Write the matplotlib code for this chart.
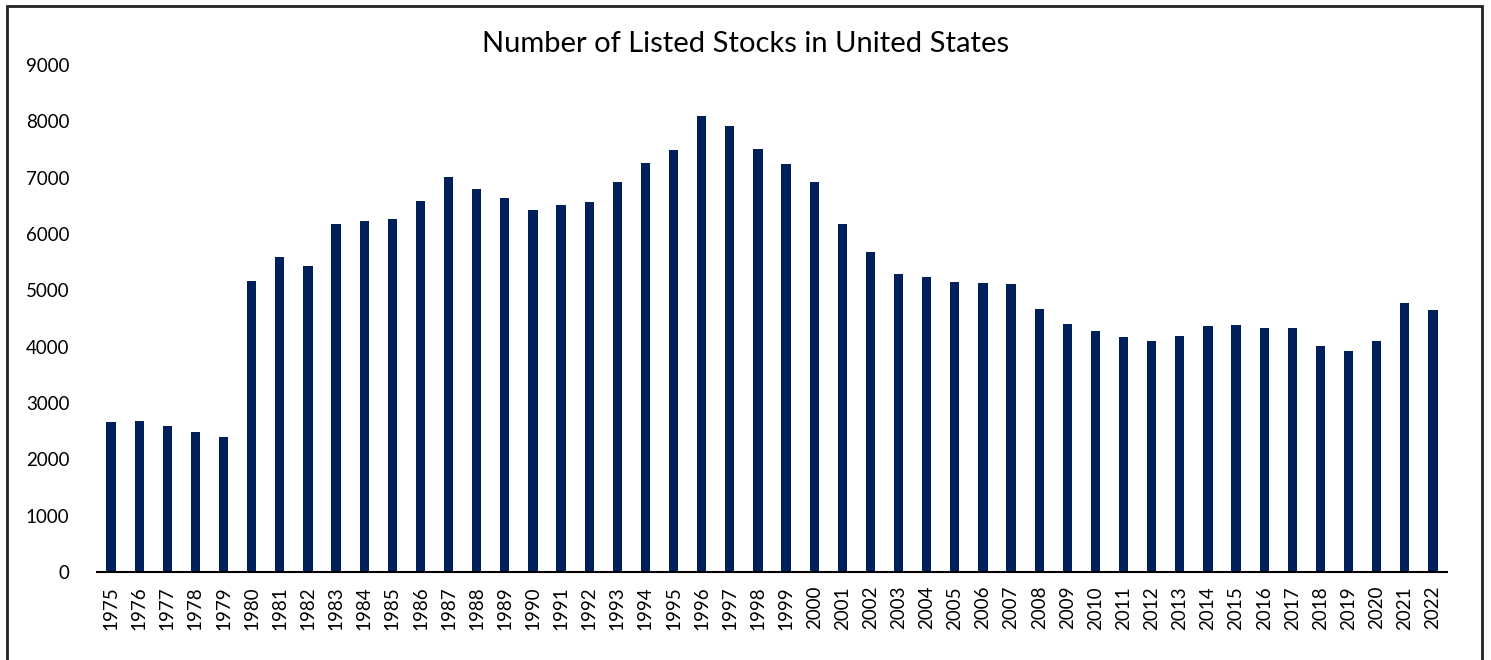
import matplotlib
matplotlib.use("Agg")
import matplotlib.pyplot as plt
from matplotlib.patches import Rectangle

YEARS = list(range(1975, 2023))
LISTED = [
    2664, 2677, 2583, 2487, 2393, 5158, 5584, 5430, 6176, 6234,
    6259, 6584, 7005, 6797, 6632, 6430, 6513, 6561, 6917, 7259,
    7490, 8099, 7911, 7503, 7236, 6917, 6176, 5684, 5293, 5229,
    5146, 5133, 5110, 4666, 4400, 4281, 4169, 4103, 4181, 4369,
    4382, 4329, 4334, 4009, 3915, 4103, 4773, 4643,
]
Y_TICKS = list(range(0, 9001, 1000))
TITLE = "Number of Listed Stocks in United States"
BAR_COLOR = "#00205B"

plt.rcParams["font.family"] = ["Lato", "DejaVu Sans"]

W, H = 1491, 660
fig = plt.figure(figsize=(W / 100, H / 100), dpi=100)
ax = fig.add_axes([97 / W, 1 - 572 / H, (1447 - 97) / W, (572 - 65) / H])

x = list(range(len(YEARS)))
ax.bar(x, LISTED, width=0.33, color=BAR_COLOR)

ax.set_xlim(-0.5, len(YEARS) - 0.5)
ax.set_ylim(0, 9000)
ax.set_yticks(Y_TICKS)
ax.set_yticklabels([str(v) for v in Y_TICKS], fontsize=13.5)
ax.set_xticks(x)
ax.set_xticklabels([str(y) for y in YEARS], rotation=90, fontsize=13.5)
ax.tick_params(axis="y", length=0, pad=20)
ax.tick_params(axis="x", length=0, pad=10)

for side in ["top", "right", "left"]:
    ax.spines[side].set_visible(False)
ax.spines["bottom"].set_color("black")
ax.spines["bottom"].set_linewidth(1.5)

fig.text(746 / W, 1 - 44 / H, TITLE, ha="center", va="center", fontsize=21)

# outer chart frame
fig.patches.append(Rectangle((7 / W, -0.02), (1482 - 7) / W, 1.02 - 6 / H,
                             transform=fig.transFigure, fill=False,
                             edgecolor="#222222", linewidth=2))

fig.savefig("out.png", dpi=100)
